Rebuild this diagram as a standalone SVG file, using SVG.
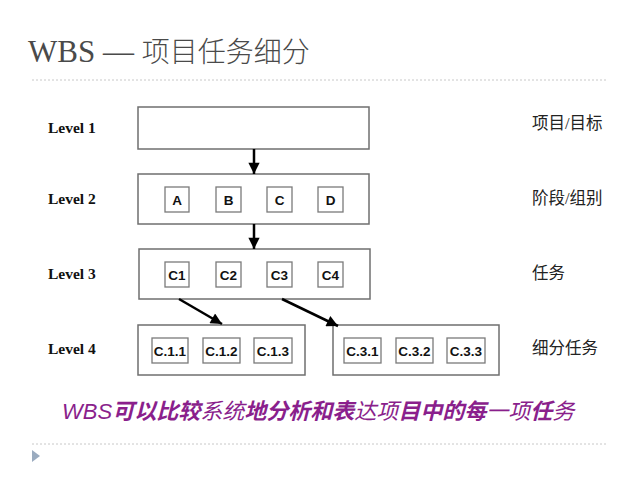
<svg xmlns="http://www.w3.org/2000/svg" width="640" height="480" viewBox="0 0 640 480">
<defs>
<marker id="ah" viewBox="0 0 10 10" refX="10" refY="5" markerWidth="5" markerHeight="4.5" orient="auto" markerUnits="strokeWidth">
<path d="M0,0 L10,5 L0,10 z" fill="#000"/>
</marker>
<style>
.outer{fill:#fff;stroke:#6f6f6f;stroke-width:1.5}
.inner{fill:#fff;stroke:#7a7a7a;stroke-width:1.3}
.lt{font-family:"Liberation Serif",serif;font-weight:bold;font-size:15.5px;fill:#111}
.it{font-family:"Liberation Sans",Arial,sans-serif;font-weight:bold;font-size:13.5px;fill:#111;text-anchor:middle}
.rt{font-family:"Liberation Serif","Noto Sans CJK SC",serif;font-size:16.5px;fill:#222}
.conn{stroke:#000;stroke-width:2.5;fill:none}
.sep{stroke:#c8c8c8;stroke-width:1;stroke-dasharray:2,2}
</style>
</defs>
<rect width="640" height="480" fill="#fff"/>
<text x="28" y="62" font-family="Liberation Serif,'Noto Sans CJK SC',serif" font-size="31" fill="#4a4a4a">WBS — <tspan font-size="28" font-family="'Noto Sans CJK SC',sans-serif" font-weight="300">项目任务细分</tspan></text>
<line class="sep" x1="32" y1="80" x2="608" y2="80"/>
<line class="sep" x1="32" y1="444" x2="608" y2="444"/>
<path d="M32,450 L40,456 L32,462 z" fill="#9aabbf"/>

<text class="lt" x="48" y="133">Level 1</text>
<text class="lt" x="48" y="204">Level 2</text>
<text class="lt" x="48" y="279">Level 3</text>
<text class="lt" x="48" y="354">Level 4</text>

<text class="rt" x="532" y="129">项目/目标</text>
<text class="rt" x="532" y="204">阶段/组别</text>
<text class="rt" x="532" y="279">任务</text>
<text class="rt" x="532" y="354">细分任务</text>

<g id="level1"><rect class="outer" x="138" y="107" width="231" height="42"/></g>

<g id="level2">
<rect class="outer" x="138" y="174" width="231" height="50"/>
<g id="nA"><rect class="inner" x="165" y="187" width="24" height="25"/><text class="it" x="177" y="204.5">A</text></g>
<g id="nB"><rect class="inner" x="216" y="187" width="25" height="25"/><text class="it" x="228.5" y="204.5">B</text></g>
<g id="nC"><rect class="inner" x="267" y="187" width="25" height="25"/><text class="it" x="279.5" y="204.5">C</text></g>
<g id="nD"><rect class="inner" x="318" y="187" width="25" height="25"/><text class="it" x="330.5" y="204.5">D</text></g>
</g>

<g id="level3">
<rect class="outer" x="139" y="249" width="231" height="50"/>
<g id="nC1"><rect class="inner" x="165" y="262" width="24" height="25"/><text class="it" x="177" y="279.5">C1</text></g>
<g id="nC2"><rect class="inner" x="216" y="262" width="25" height="25"/><text class="it" x="228.5" y="279.5">C2</text></g>
<g id="nC3"><rect class="inner" x="267" y="262" width="25" height="25"/><text class="it" x="279.5" y="279.5">C3</text></g>
<g id="nC4"><rect class="inner" x="318" y="262" width="25" height="25"/><text class="it" x="330.5" y="279.5">C4</text></g>
</g>

<g id="level4a">
<rect class="outer" x="138" y="325" width="167" height="50"/>
<g id="nC11"><rect class="inner" x="152" y="338" width="36" height="25"/><text class="it" x="170" y="355.5">C.1.1</text></g>
<g id="nC12"><rect class="inner" x="203" y="338" width="37" height="25"/><text class="it" x="221.5" y="355.5">C.1.2</text></g>
<g id="nC13"><rect class="inner" x="254" y="338" width="38" height="25"/><text class="it" x="273" y="355.5">C.1.3</text></g>
</g>

<g id="level4b">
<rect class="outer" x="333" y="325" width="166" height="50"/>
<g id="nC31"><rect class="inner" x="344" y="338" width="37" height="25"/><text class="it" x="362.5" y="355.5">C.3.1</text></g>
<g id="nC32"><rect class="inner" x="396" y="338" width="37" height="25"/><text class="it" x="414.5" y="355.5">C.3.2</text></g>
<g id="nC33"><rect class="inner" x="447" y="338" width="38" height="25"/><text class="it" x="466" y="355.5">C.3.3</text></g>
</g>

<g id="connectors">
<line class="conn" x1="254" y1="149" x2="254" y2="174" marker-end="url(#ah)"/>
<line class="conn" x1="254" y1="224" x2="254" y2="249" marker-end="url(#ah)"/>
<line class="conn" x1="179" y1="299" x2="222" y2="324" marker-end="url(#ah)"/>
<line class="conn" x1="282" y1="299" x2="338" y2="326" marker-end="url(#ah)"/>
</g>

<text x="62" y="419" font-family="'Noto Sans CJK SC',sans-serif" font-size="22" font-style="italic" fill="#8a1f8c"><tspan font-family="'Liberation Sans',sans-serif" font-weight="300">WBS</tspan><tspan font-weight="bold">可以比较</tspan><tspan>系统</tspan><tspan font-weight="bold">地分析和表</tspan><tspan>达项</tspan><tspan font-weight="bold">目中的每</tspan><tspan>一项</tspan><tspan font-weight="bold">任</tspan><tspan>务</tspan></text>
</svg>
